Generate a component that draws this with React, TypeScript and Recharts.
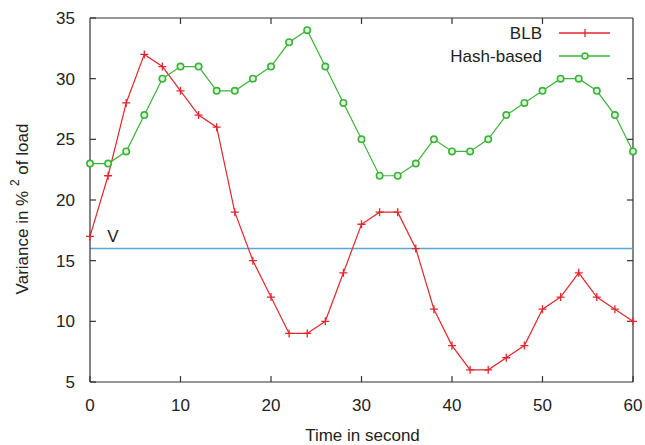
import React from 'react';
import { LineChart, Line, XAxis, YAxis, ReferenceLine } from 'recharts';

const times = [0, 2, 4, 6, 8, 10, 12, 14, 16, 18, 20, 22, 24, 26, 28, 30, 32, 34, 36, 38, 40, 42, 44, 46, 48, 50, 52, 54, 56, 58, 60];
const blbValues = [17, 22, 28, 32, 31, 29, 27, 26, 19, 15, 12, 9, 9, 10, 14, 18, 19, 19, 16, 11, 8, 6, 6, 7, 8, 11, 12, 14, 12, 11, 10];
const hashValues = [23, 23, 24, 27, 30, 31, 31, 29, 29, 30, 31, 33, 34, 31, 28, 25, 22, 22, 23, 25, 24, 24, 25, 27, 28, 29, 30, 30, 29, 27, 24];
const xTicks = [0, 10, 20, 30, 40, 50, 60];
const yTicks = [5, 10, 15, 20, 25, 30, 35];
const xDomain = [0, 60];
const yDomain = [5, 35];
const threshold = 16;
const thresholdLabel = 'V';
const seriesNames = ['BLB', 'Hash-based'];
const xLabel = 'Time in second';

const data = times.map((t, i) => ({ t, blb: blbValues[i], hash: hashValues[i] }));

const RED = '#e3262c';
const GREEN = '#3cb43a';
const BLUE = '#5aa8d6';
const AXIS = '#333333';
const FONT = '"Liberation Sans", Arial, sans-serif';
const TEXT = '#222222';
const TOP_TICK = 0.5;
const RIGHT_TICK = 0.66;

const PlusDot = (props: any) => {
  const { cx, cy, index } = props;
  if (cx == null || cy == null) return <g key={`p${index}`} />;
  return (
    <path
      key={`p${index}`}
      d={`M${cx - 4},${cy}h8M${cx},${cy - 4}v8`}
      stroke={RED}
      strokeWidth={1.3}
      fill="none"
    />
  );
};

const CircleDot = (props: any) => {
  const { cx, cy, index } = props;
  if (cx == null || cy == null) return <g key={`c${index}`} />;
  return (
    <circle key={`c${index}`} cx={cx} cy={cy} r={3.2} stroke={GREEN} strokeWidth={1.6} fill="#dff3dc" />
  );
};

const LegendOverlay = () => (
  <svg width={645} height={80} style={{ position: 'absolute', left: 0, top: 0, pointerEvents: 'none' }}>
    <text x={542} y={39} textAnchor="end" fontFamily={FONT} fontSize={17} fill={TEXT}>{seriesNames[0]}</text>
    <line x1={559} x2={610} y1={33} y2={33} stroke={RED} strokeWidth={1.3} />
    <path d="M585,29v8" stroke={RED} strokeWidth={1.3} />
    <text x={542} y={62} textAnchor="end" fontFamily={FONT} fontSize={17} fill={TEXT}>{seriesNames[1]}</text>
    <line x1={559} x2={610} y1={56} y2={56} stroke={GREEN} strokeWidth={1.3} />
    <circle cx={585} cy={56} r={3} stroke={GREEN} strokeWidth={1.6} fill="#dff3dc" />
  </svg>
);

const YLabel = (props: any) => {
  const vb = props.viewBox || {};
  const cx = 22;
  const cy = (vb.y ?? 18) + (vb.height ?? 364) / 2 + 9;
  return (
    <text
      x={cx}
      y={cy}
      transform={`rotate(-90, ${cx}, ${cy})`}
      textAnchor="middle"
      dominantBaseline="central"
      fontFamily={FONT}
      fontSize={17}
      fill={TEXT}
    >
      <tspan>Variance in % </tspan>
      <tspan dy={-7} fontSize={12}>2</tspan>
      <tspan dy={7}> of load</tspan>
    </text>
  );
};

const XLabel = (props: any) => {
  const vb = props.viewBox || {};
  const x = (vb.x ?? 90) + (vb.width ?? 543) / 2 + 1;
  const y = (vb.y ?? 382) + 59;
  return (
    <text x={x} y={y} textAnchor="middle" fontFamily={FONT} fontSize={17} fill={TEXT}>
      {xLabel}
    </text>
  );
};

const VLabel = (props: any) => {
  const vb = props.viewBox || {};
  return (
    <text x={(vb.x ?? 90) + 23} y={(vb.y ?? 249) - 7} textAnchor="middle" fontFamily={FONT} fontSize={17} fill={TEXT}>
      {thresholdLabel}
    </text>
  );
};

const tickStyle = { fontFamily: FONT, fontSize: 17, fill: TEXT };

export default function App() {
  const yTop = yDomain[1];
  const xRight = xDomain[1];
  return (
    <div style={{ position: 'absolute', left: 0, top: 0, width: 645, height: 445, background: '#fff' }}>
      <LineChart width={645} height={445} data={data} margin={{ top: 18, right: 12, bottom: 0, left: 0 }} style={{ overflow: 'visible' }}>
        <XAxis
          dataKey="t"
          type="number"
          domain={xDomain}
          ticks={xTicks}
          height={63}
          tickSize={-6}
          tickMargin={23}
          tick={tickStyle}
          axisLine={{ stroke: AXIS, strokeWidth: 1.2 }}
          tickLine={{ stroke: AXIS, strokeWidth: 1.2 }}
          label={<XLabel />}
        />
        <YAxis
          type="number"
          domain={yDomain}
          ticks={yTicks}
          width={90}
          tickSize={-6}
          tickMargin={21}
          tick={tickStyle}
          axisLine={{ stroke: AXIS, strokeWidth: 1.2 }}
          tickLine={{ stroke: AXIS, strokeWidth: 1.2 }}
          label={<YLabel />}
        />
        <ReferenceLine y={yTop} stroke={AXIS} strokeWidth={1.2} ifOverflow="visible" />
        <ReferenceLine x={xRight} stroke={AXIS} strokeWidth={1.2} ifOverflow="visible" />
        {xTicks.slice(1, -1).map((t) => (
          <ReferenceLine
            key={`tt${t}`}
            segment={[{ x: t, y: yTop }, { x: t, y: yTop - TOP_TICK }]}
            stroke={AXIS}
            strokeWidth={1.2}
            ifOverflow="visible"
          />
        ))}
        {yTicks.slice(1, -1).map((v) => (
          <ReferenceLine
            key={`rt${v}`}
            segment={[{ x: xRight, y: v }, { x: xRight - RIGHT_TICK, y: v }]}
            stroke={AXIS}
            strokeWidth={1.2}
            ifOverflow="visible"
          />
        ))}
        <ReferenceLine y={threshold} stroke={BLUE} strokeWidth={1.6} label={<VLabel />} />
        <Line
          dataKey="blb"
          name={seriesNames[0]}
          stroke={RED}
          strokeWidth={1.2}
          dot={PlusDot}
          activeDot={false}
          isAnimationActive={false}
        />
        <Line
          dataKey="hash"
          name={seriesNames[1]}
          stroke={GREEN}
          strokeWidth={1.2}
          dot={CircleDot}
          activeDot={false}
          isAnimationActive={false}
        />
      </LineChart>
      <LegendOverlay />
    </div>
  );
}
